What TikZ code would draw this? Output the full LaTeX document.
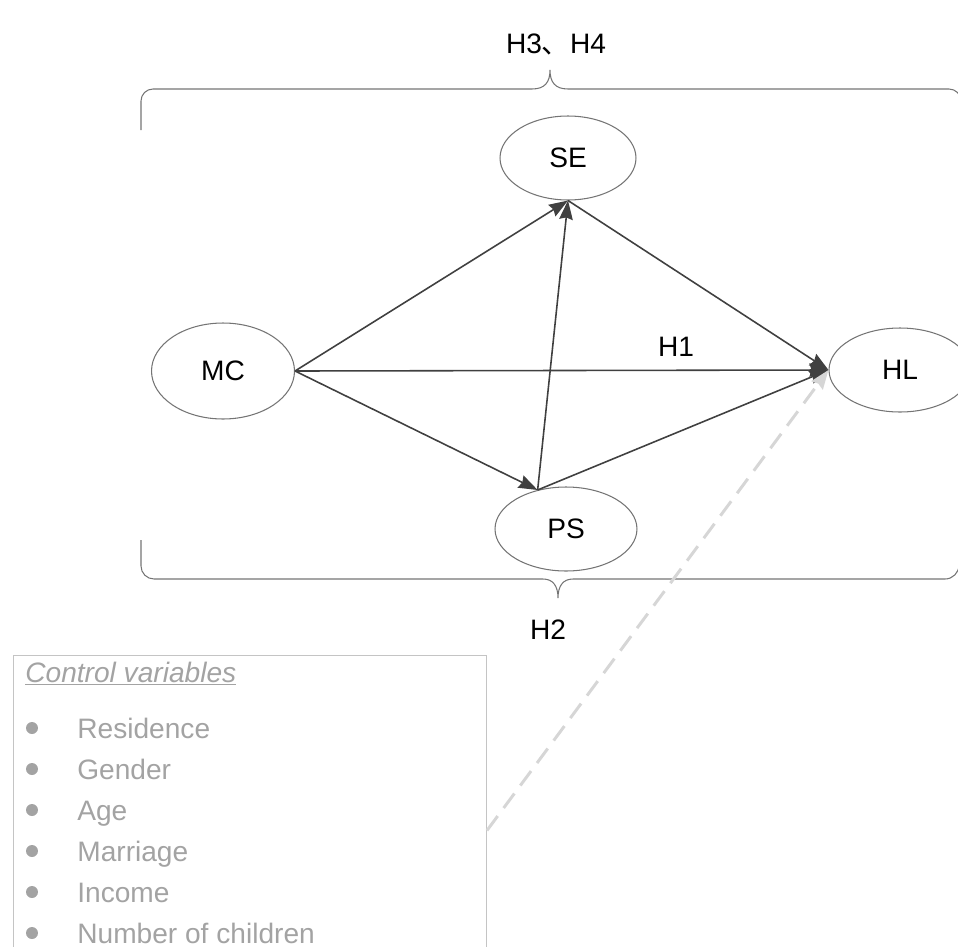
\documentclass[tikz,border=0pt]{standalone}
\usepackage{fontspec}
\setmainfont{Liberation Sans}
\newfontfamily\cjk{Noto Sans CJK SC}
\usetikzlibrary{shapes.geometric,arrows.meta}
\definecolor{linegray}{HTML}{404040}
\definecolor{rimgray}{HTML}{747474}
\definecolor{boxgray}{HTML}{C4C4C4}
\definecolor{txtgray}{HTML}{A3A3A3}
\definecolor{dashgray}{HTML}{D6D6D6}
\begin{document}
\begin{tikzpicture}[x=0.02cm,y=-0.02cm,
  font=\fontsize{16}{19}\selectfont,
  var/.style={draw=rimgray,line width=0.6pt,ellipse,inner sep=0pt,minimum width=2.72cm,minimum height=1.68cm},
  path/.style={draw=linegray,line width=0.9pt,-{Stealth[length=0.38cm,width=0.27cm,inset=0.04cm]}},
  brace/.style={draw=rimgray,line width=0.6pt},
  ctrl/.style={draw=dashgray,line width=1.7pt,dash pattern=on 0.36cm off 0.2cm,-{Stealth[length=0.38cm,width=0.28cm,inset=0.04cm]}},
  item/.style={text=txtgray,anchor=base west,inner sep=0pt}]
\useasboundingbox (0,0) rectangle (958,947);

\node[var] at (568,158) (SE) {SE};
\node[var,minimum width=2.86cm,minimum height=1.92cm] at (223,371) (MC) {MC};
\node[var,minimum width=2.84cm] at (900,370) (HL) {HL};
\node[var,minimum width=2.84cm] at (566,529) (PS) {PS};

\node at (556,44) (top) {H3{\cjk 、}H4};
\node at (548,630) (bottom) {H2};
\node at (676,347) (h1) {H1};

% braces
\draw[brace] (141,130) -- (141,101) to[out=90,in=180] (153,89) -- (532,89)
  .. controls (545,89) and (550,82) .. (550,70)
  .. controls (550,82) and (555,89) .. (568,89) -- (949,89) to[out=0,in=90] (961,101) -- (961,130);
\draw[brace] (141,540) -- (141,566) to[out=-90,in=180] (154,579) -- (543,579)
  .. controls (553,579) and (558,586) .. (558,598)
  .. controls (558,586) and (563,579) .. (573,579) -- (945,579) to[out=0,in=-90] (959,565) -- (959,540);

\draw[path] (MC.east) -- (SE.south);
\draw[path] (MC.east) -- (HL.west);
\draw[path] (MC.east) -- (PS.126);
\draw[path] (PS.126) -- (SE.south);
\draw[path] (SE.south) -- (HL.west);
\draw[path] (PS.126) -- (HL.west);

% control variables
\node[draw=boxgray,line width=0.6pt,minimum width=9.46cm,minimum height=7cm,anchor=north west,inner sep=0pt] at (13,655) (ctrl) {};
\node[item] at (25,682) (title) {\itshape\underline{Control variables}};
\foreach \txt [count=\i] in {Residence,Gender,Age,Marriage,Income,Number of children}
{
  \fill[txtgray] (32,687+41*\i) circle (0.12cm);
  \node[item] at (77,697+41*\i) (v\i) {\txt};
}
\draw[ctrl] (ctrl.east) -- (HL.west);

\end{tikzpicture}
\end{document}
